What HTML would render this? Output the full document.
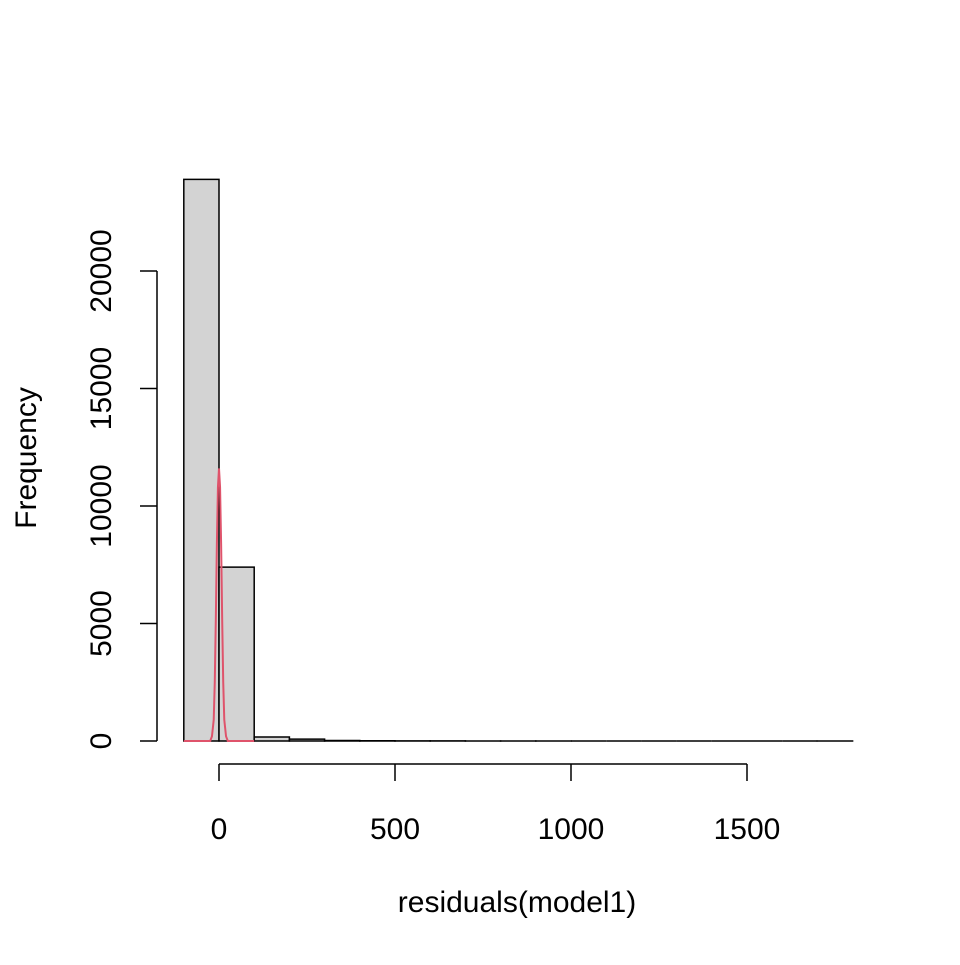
<!DOCTYPE html>
<html><head><meta charset="utf-8"><style>
html,body{margin:0;padding:0;background:#fff;}
svg text{font-family:"Liberation Sans",Arial,sans-serif;font-size:30px;fill:#000;}
</style></head><body>
<svg id="chart" width="960" height="960" viewBox="0 0 960 960" xmlns="http://www.w3.org/2000/svg">
<g id="bars"></g>
<polyline id="curve" fill="none" stroke="#DF536B" stroke-width="2"/>
<g id="xaxis"></g>
<g id="yaxis"></g>
<text x="517" y="912" text-anchor="middle">residuals(model1)</text>
<text transform="translate(36,458) rotate(-90)" text-anchor="middle">Frequency</text>
</svg>
<script>
const binStarts = [-100,0,100,200,300,400,500,600,700,800,900,1000,1100,1200,1300,1400,1500,1600,1700];
const counts = [23900,7400,170,80,20,10,5,3,2,1,1,0,0,0,0,0,0,0,1];
const binWidth = 100;
const curveX = [-100,-25,-20,-15,-12,-9,-6,-3,0,3,6,9,12,15,20,25,100];
const curveY = [0,0,200,900,2500,5200,8400,10800,11600,10800,8400,5200,2500,900,200,0,0];
const xTicks = [0,500,1000,1500];
const yTicks = [0,5000,10000,15000,20000];

const sx = v => 219 + (v - 0) * 0.352;
const sy = v => 741 - v * 0.0235;
const NS = "http://www.w3.org/2000/svg";
const mk = (t, a) => { const e = document.createElementNS(NS, t); for (const k in a) e.setAttribute(k, a[k]); return e; };

const bars = document.getElementById('bars');
binStarts.forEach((b, i) => {
  const x0 = sx(b), x1 = sx(b + binWidth), y = sy(counts[i]);
  const d = `M${x0},741 L${x0},${y} L${x1},${y} L${x1},741 Z`;
  const r = mk('path', {d: d, fill: '#D3D3D3', stroke: '#000', 'stroke-width': 1.5});
  
  
  bars.appendChild(r);
});

document.getElementById('curve').setAttribute('points', curveX.map((v, i) => sx(v) + ',' + sy(curveY[i])).join(' '));

const xa = document.getElementById('xaxis');
xa.appendChild(mk('line', {x1: sx(xTicks[0]), x2: sx(xTicks[xTicks.length-1]), y1: 764, y2: 764, stroke: '#000', 'stroke-width': 1.5}));
xTicks.forEach(t => {
  xa.appendChild(mk('line', {x1: sx(t), x2: sx(t), y1: 764, y2: 781, stroke: '#000', 'stroke-width': 1.5}));
  const tx = mk('text', {x: sx(t), y: 839, 'text-anchor': 'middle'});
  tx.textContent = t;
  
  
  xa.appendChild(tx);
});

const ya = document.getElementById('yaxis');
ya.appendChild(mk('line', {x1: 157, x2: 157, y1: sy(yTicks[0]), y2: sy(yTicks[yTicks.length-1]), stroke: '#000', 'stroke-width': 1.5}));
yTicks.forEach(t => {
  ya.appendChild(mk('line', {x1: 140, x2: 157, y1: sy(t), y2: sy(t), stroke: '#000', 'stroke-width': 1.5}));
  const tx = mk('text', {'text-anchor': 'middle', transform: 'translate(111,' + sy(t) + ') rotate(-90)'});
  tx.textContent = t;
  
  
  ya.appendChild(tx);
});
</script>
</body></html>
